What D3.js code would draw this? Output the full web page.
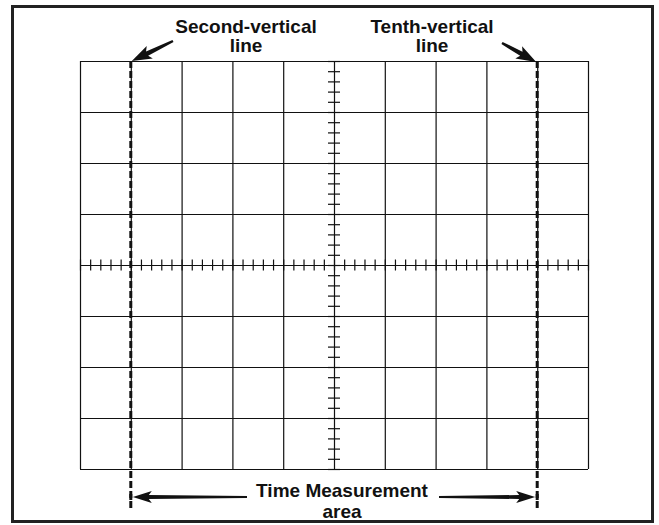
<!DOCTYPE html>
<html>
<head>
<meta charset="utf-8">
<script src="https://cdn.jsdelivr.net/npm/d3@7"></script>
<style>
  html, body { margin: 0; padding: 0; background: #fff; }
  svg { display: block; }
  text { font-family: "Liberation Sans", Arial, Helvetica, sans-serif; font-weight: bold; fill: #111; }
</style>
</head>
<body>
<svg id="chart" width="659" height="525"></svg>
<script>
// ---- Data ----
const xDivisions = [0, 1, 2, 3, 4, 5, 6, 7, 8, 9, 10];   // vertical graticule lines
const yDivisions = [0, 1, 2, 3, 4, 5, 6, 7, 8];          // horizontal graticule lines
const minorPerDivision = 5;                               // subdivisions on centre lines
const markerLines = [1, 9];                               // second and tenth vertical lines (0-based index)
const topLabels = [
  { line: 1, text: ["Second-vertical", "line"] },
  { line: 9, text: ["Tenth-vertical", "line"] }
];
const bottomLabel = ["Time Measurement", "area"];

// ---- Layout ----
const svg = d3.select("#chart");
const grid = { left: 80, right: 588, top: 61, bottom: 469 };

const x = d3.scaleLinear().domain([0, 10]).range([grid.left, grid.right]);
const y = d3.scaleLinear().domain([0, 8]).range([grid.top, grid.bottom]);
const ink = "#111";

// outer frame
svg.append("rect")
  .attr("x", 12.5).attr("y", 6.5).attr("width", 640).attr("height", 515)
  .attr("fill", "none").attr("stroke", "#222").attr("stroke-width", 3);

// grid lines via axes
const gGridX = svg.append("g").attr("transform", `translate(0,${grid.bottom})`)
  .call(d3.axisBottom(x).tickValues(xDivisions).tickSize(-(grid.bottom - grid.top)).tickFormat(""));
const gGridY = svg.append("g").attr("transform", `translate(${grid.left},0)`)
  .call(d3.axisLeft(y).tickValues(yDivisions).tickSize(-(grid.right - grid.left)).tickFormat(""));
[gGridX, gGridY].forEach(g => {
  g.select(".domain").remove();
  g.selectAll("line").attr("stroke", ink).attr("stroke-width", 1.2);
});

// minor ticks on centre lines
const xMinor = d3.range(0, 10 * minorPerDivision + 1).map(i => i / minorPerDivision);
const yMinor = d3.range(0, 8 * minorPerDivision + 1).map(i => i / minorPerDivision);
const cy = y(4), cx = x(5);
[d3.axisTop(x), d3.axisBottom(x)].forEach(ax => {
  const g = svg.append("g").attr("transform", `translate(0,${cy})`)
    .call(ax.tickValues(xMinor).tickSize(5.5).tickFormat(""));
  g.select(".domain").remove();
  g.selectAll("line").attr("stroke", ink).attr("stroke-width", 1.2);
});
[d3.axisLeft(y), d3.axisRight(y)].forEach(ax => {
  const g = svg.append("g").attr("transform", `translate(${cx},0)`)
    .call(ax.tickValues(yMinor).tickSize(6).tickFormat(""));
  g.select(".domain").remove();
  g.selectAll("line").attr("stroke", ink).attr("stroke-width", 1.2);
});

// dashed marker lines
svg.selectAll("line.marker").data(markerLines).enter().append("line")
  .attr("class", "marker")
  .attr("x1", d => x(d)).attr("x2", d => x(d))
  .attr("y1", grid.top).attr("y2", 509)
  .attr("stroke", ink).attr("stroke-width", 3)
  .attr("stroke-dasharray", "7,3");

// arrow helper: tapered shaft + head
function arrow(x1, y1, x2, y2, opts = {}) {
  const headLen = opts.headLen || 14, headW = opts.headW || 5.5;
  const w0 = opts.w0 || 0.8, w1 = opts.w1 || 1.8;
  const dx = x2 - x1, dy = y2 - y1, L = Math.hypot(dx, dy);
  const ux = dx / L, uy = dy / L, nx = -uy, ny = ux;
  const bx = x2 - ux * headLen, by = y2 - uy * headLen;
  const pts = [
    [x1 + nx * w0, y1 + ny * w0],
    [bx + nx * w1, by + ny * w1],
    [bx + nx * headW - ux * 3, by + ny * headW - uy * 3],
    [x2, y2],
    [bx - nx * headW - ux * 3, by - ny * headW - uy * 3],
    [bx - nx * w1, by - ny * w1],
    [x1 - nx * w0, y1 - ny * w0]
  ];
  svg.append("path").attr("d", d3.line()(pts) + "Z").attr("fill", ink);
}

// top labels + arrows
const labelX = { 1: 246, 9: 432 };
topLabels.forEach(l => {
  const t = svg.append("text").attr("text-anchor", "middle").attr("font-size", 19);
  t.append("tspan").attr("x", labelX[l.line]).attr("y", 33).text(l.text[0]);
  t.append("tspan").attr("x", labelX[l.line]).attr("y", 52).text(l.text[1]);
});
arrow(173, 41, x(markerLines[0]) + 1, grid.top, { headLen: 17, headW: 7, w0: 1.2, w1: 2.4 });
arrow(502, 43, x(markerLines[1]) - 1, grid.top + 1, { headLen: 17, headW: 7, w0: 1.2, w1: 2.4 });

// bottom label + arrows
const bt = svg.append("text").attr("text-anchor", "middle").attr("font-size", 19);
bt.append("tspan").attr("x", 342).attr("y", 497).text(bottomLabel[0]);
bt.append("tspan").attr("x", 342).attr("y", 518).text(bottomLabel[1]);
arrow(247, 497, x(markerLines[0]) + 2, 497, { headLen: 16, headW: 6, w0: 1.1, w1: 2.0 });
arrow(439, 497, x(markerLines[1]) - 2, 497, { headLen: 16, headW: 6, w0: 1.1, w1: 2.0 });
// small hooks at arrow tips
markerLines.forEach(m => {
  svg.append("line").attr("x1", x(m)).attr("x2", x(m)).attr("y1", 494).attr("y2", 500)
    .attr("stroke", ink).attr("stroke-width", 3);
});
</script>
</body>
</html>
